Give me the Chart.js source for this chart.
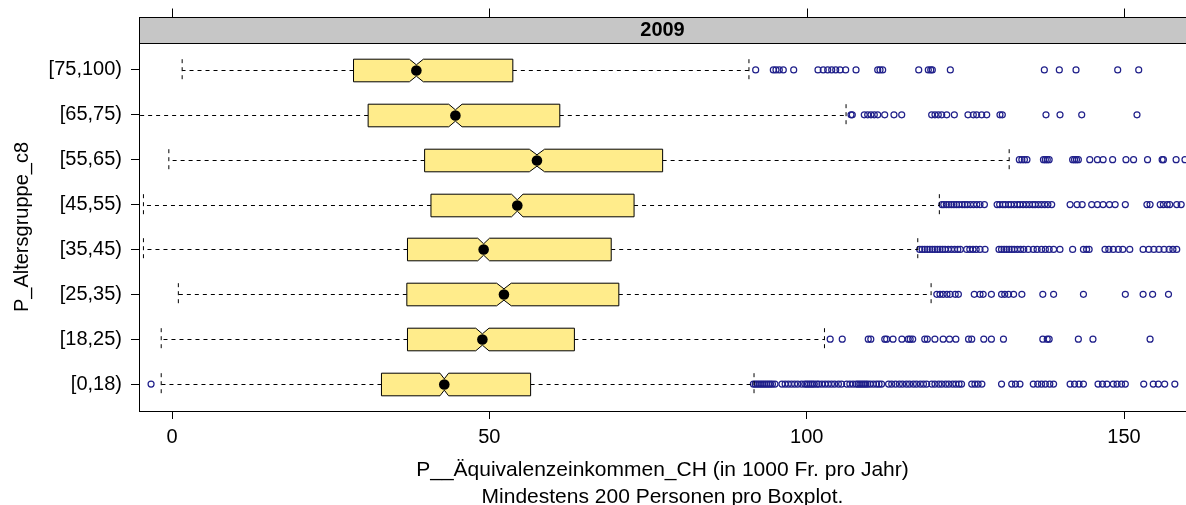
<!DOCTYPE html>
<html>
<head>
<meta charset="utf-8">
<script src="https://cdn.jsdelivr.net/npm/chart.js@4.4.0/dist/chart.umd.min.js"></script>
<style>
  body { margin: 0; background: #fff; }
  #wrap { width: 1186px; height: 505px; }
</style>
</head>
<body>
<div id="wrap"><canvas id="bw-chart"></canvas></div>
<script>
//Groups, top to bottom
var groups = ["[75,100)", "[65,75)", "[55,65)", "[45,55)", "[35,45)", "[25,35)", "[18,25)", "[0,18)"];

//Box statistics (1000 Fr. pro Jahr)
var whiskerLow = [1.6, -8, -0.5, -4.5, -4.5, 1.0, -1.7, -1.7];
var q1 = [28.6, 30.9, 39.8, 40.8, 37.1, 37.0, 37.1, 33.0];
var medians = [38.5, 44.65, 57.5, 54.4, 49.1, 52.3, 48.9, 42.9];
var q3 = [53.7, 61.1, 77.3, 72.8, 69.2, 70.4, 63.4, 56.5];
var whiskerHigh = [90.9, 106.2, 131.9, 120.9, 117.5, 119.6, 102.8, 91.7];
var notchHalf = [1.1, 1.05, 1.2, 0.9, 0.93, 1.15, 1.04, 0.68];

//Outliers for each group
var out_75_100 = [91.96, 94.74, 95.16, 95.68, 96.31, 97.95, 101.78, 102.61, 103.31, 103.94, 104.57, 105.25, 106.14, 107.77,
  111.19, 111.55, 111.97, 117.65, 119.16, 119.54, 119.79, 122.63, 137.44, 139.8, 142.43, 149.0, 152.31];
var out_65_75 = [106.98, 107.18, 109.07, 109.61, 110.13, 110.65, 111.19, 112.29, 113.75, 114.97, 119.69, 120.21, 120.73,
  121.27, 122.06, 123.26, 125.41, 126.25, 126.78, 127.57, 128.36, 130.45, 130.82, 137.7, 139.91, 143.33, 152.04];
var out_55_65 = [133.5, 133.9, 134.3, 134.7, 137.3, 137.6, 137.9, 138.2, 141.9, 142.2, 142.5, 142.8, 144.6, 145.8, 146.7,
  148.2, 150.3, 151.5, 153.7, 156.0, 156.2, 158.2, 159.6];
var out_45_55 = [121.3, 121.6, 122.0, 122.4, 122.8, 123.2, 123.6, 124.0, 124.5, 124.9, 125.3, 125.8, 126.3, 126.8, 127.3, 128.0,
  130.0, 130.4, 130.9, 131.3, 131.8, 132.2, 132.7, 133.2, 133.6, 134.1, 134.6, 135.1, 135.6, 136.0, 136.5, 137.0, 137.5, 138.0, 138.6,
  141.5, 142.6, 143.4, 144.9, 145.8, 146.7, 147.7, 148.6, 150.2, 153.6, 154.1, 155.7, 156.2, 156.8, 157.2, 158.3, 159.0];
var out_35_45 = [117.8, 118.2, 118.6, 119.0, 119.4, 119.8, 120.2, 120.6, 121.0, 121.4, 121.8, 122.3, 122.8, 123.3, 123.8, 124.2,
  125.2, 125.7, 126.2, 126.7, 127.3, 128.1, 130.3, 130.7, 131.1, 131.5, 131.9, 132.3, 132.7, 133.2, 133.7, 134.2, 134.9,
  135.7, 136.3, 137.0, 137.6, 138.2, 138.9, 139.9, 141.9, 143.6, 144.1, 144.5, 147.0, 147.6, 148.3, 149.1, 149.8, 150.9,
  153.0, 153.9, 154.7, 155.5, 156.3, 157.1, 157.7, 158.3];
var out_25_35 = [120.5, 121.0, 121.5, 122.1, 122.6, 123.4, 123.9, 126.4, 127.3, 127.8, 129.1, 130.7, 131.2, 131.8, 132.6,
  133.9, 137.2, 138.9, 143.6, 150.2, 153.0, 154.5, 157.0];
var out_18_25 = [103.7, 105.6, 109.7, 110.1, 112.3, 112.6, 113.6, 115.0, 116.0, 116.3, 116.7, 118.6, 119.0, 120.2, 121.5,
  122.5, 123.5, 125.5, 126.0, 127.9, 129.1, 131.0, 137.2, 137.9, 138.2, 142.8, 145.1, 154.1];
var out_0_18 = [-3.3, 91.6, 91.9, 92.2, 92.5, 92.8, 93.1, 93.4, 93.7, 94.0, 94.3, 94.6, 95.0,
  96.1, 96.6, 97.1, 97.6, 98.1, 98.6, 99.2, 99.7, 100.0, 100.3, 100.6, 100.9, 101.2, 101.6,
  101.9, 102.4, 102.9, 103.4, 103.9, 104.4, 105.0, 105.5,
  106.3, 106.8, 107.3, 107.8, 108.1, 108.4, 108.7, 109.0, 109.3, 109.6, 110.0, 110.5, 111.0, 111.4, 111.8,
  112.9, 113.4, 114.0, 114.6, 115.1, 115.7, 116.2, 116.8, 117.3, 117.9, 118.4, 118.9,
  119.7, 120.2, 120.8, 121.3, 121.9, 122.4, 123.0, 123.5, 124.0, 124.4,
  126.0, 126.5, 127.0, 127.6, 130.7, 132.3, 132.9, 133.6, 135.7, 136.4, 137.0, 137.6, 138.3, 138.9,
  141.5, 142.2, 142.9, 143.6, 145.9, 146.6, 147.3, 148.3, 148.9, 149.6, 150.2,
  153.1, 154.6, 155.4, 156.4, 158.0];

var xTicks = [0, 50, 100, 150];
var panelTitle = "2009";
var xTitle = "P__Äquivalenzeinkommen_CH (in 1000 Fr. pro Jahr)";
var xSubTitle = "Mindestens 200 Personen pro Boxplot.";
var yTitle = "P_Altersgruppe_c8";

var fontFamily = "'Liberation Sans', Arial, sans-serif";

//Build scatter points for outliers
var allOutliers = [out_75_100, out_65_75, out_55_65, out_45_55, out_35_45, out_25_35, out_18_25, out_0_18];
var outlierPoints = [];
for (var g = 0; g < allOutliers.length; g++) {
  for (var k = 0; k < allOutliers[g].length; k++) {
    outlierPoints.push({ x: allOutliers[g][k], y: g });
  }
}

//Notched box and whisker drawing, plus lattice strip on top
var bwPlugin = {
  id: 'bwPlot',
  afterDatasetsDraw: function(chart) {
    var ctx = chart.ctx;
    var xs = chart.scales.x;
    var ys = chart.scales.y;
    var area = chart.chartArea;
    var rowPx = Math.abs(ys.getPixelForValue(1) - ys.getPixelForValue(0));
    var half = rowPx * 0.252;

    ctx.save();
    ctx.beginPath();
    ctx.rect(area.left, area.top, area.right - area.left, area.bottom - area.top);
    ctx.clip();
    ctx.lineWidth = 1;
    ctx.strokeStyle = '#000';
    for (var i = 0; i < groups.length; i++) {
      var yc = Math.round(ys.getPixelForValue(i)) + 0.5;
      var xLo = xs.getPixelForValue(whiskerLow[i]);
      var xQ1 = xs.getPixelForValue(q1[i]);
      var xMed = xs.getPixelForValue(medians[i]);
      var xQ3 = xs.getPixelForValue(q3[i]);
      var xHi = xs.getPixelForValue(whiskerHigh[i]);
      var xNl = xs.getPixelForValue(medians[i] - notchHalf[i]);
      var xNh = xs.getPixelForValue(medians[i] + notchHalf[i]);

      //whiskers
      ctx.setLineDash([4, 4]);
      ctx.beginPath();
      ctx.moveTo(xQ1, yc); ctx.lineTo(xLo, yc);
      ctx.moveTo(xQ3, yc); ctx.lineTo(xHi, yc);
      ctx.moveTo(xLo, yc - half); ctx.lineTo(xLo, yc + half);
      ctx.moveTo(xHi, yc - half); ctx.lineTo(xHi, yc + half);
      ctx.stroke();

      //notched box
      ctx.setLineDash([]);
      ctx.beginPath();
      ctx.moveTo(xQ1, yc - half);
      ctx.lineTo(xNl, yc - half);
      ctx.lineTo(xMed, yc - half / 2);
      ctx.lineTo(xNh, yc - half);
      ctx.lineTo(xQ3, yc - half);
      ctx.lineTo(xQ3, yc + half);
      ctx.lineTo(xNh, yc + half);
      ctx.lineTo(xMed, yc + half / 2);
      ctx.lineTo(xNl, yc + half);
      ctx.lineTo(xQ1, yc + half);
      ctx.closePath();
      ctx.fillStyle = '#ffec8b';
      ctx.fill();
      ctx.stroke();

      //median dot
      ctx.beginPath();
      ctx.arc(xMed, yc, 5.3, 0, Math.PI * 2);
      ctx.fillStyle = '#000';
      ctx.fill();
    }
    ctx.restore();

    //strip
    var stripTop = area.top - 26;
    ctx.save();
    ctx.fillStyle = '#c6c6c6';
    ctx.strokeStyle = '#000';
    ctx.lineWidth = 1;
    ctx.fillRect(area.left, stripTop, area.right - area.left + 2, 26);
    ctx.strokeRect(area.left + 0.5, stripTop + 0.5, area.right - area.left + 2, 26);
    ctx.fillStyle = '#000';
    ctx.font = 'bold 20px ' + fontFamily;
    ctx.textAlign = 'center';
    ctx.textBaseline = 'middle';
    ctx.fillText(panelTitle, (area.left + area.right) / 2, stripTop + 13.5);

    //top axis ticks
    ctx.beginPath();
    for (var t = 0; t < xTicks.length; t++) {
      var tx = Math.round(xs.getPixelForValue(xTicks[t])) + 0.5;
      ctx.moveTo(tx, stripTop - 8.5);
      ctx.lineTo(tx, stripTop);
    }
    ctx.stroke();
    ctx.restore();
  }
};

var bwChart = new Chart(document.getElementById('bw-chart'), {
  type: 'scatter',
  data: {
    datasets: [{
      label: 'Ausreisser',
      data: outlierPoints,
      pointStyle: 'circle',
      pointRadius: 3.0,
      pointHoverRadius: 3.0,
      borderColor: '#1f1f8a',
      backgroundColor: 'rgba(0,0,0,0)',
      borderWidth: 1.2
    }]
  },
  options: {
    responsive: true,
    maintainAspectRatio: false,
    animation: false,
    layout: { autoPadding: false, padding: { top: 43, right: 0, bottom: 0, left: 0 } },
    plugins: {
      legend: { display: false },
      tooltip: { enabled: false }
    },
    scales: {
      x: {
        type: 'linear',
        position: 'bottom',
        min: -5.2,
        max: 159.76,
        afterBuildTicks: function(axis) {
          axis.ticks = xTicks.map(function(v) { return { value: v }; });
        },
        afterFit: function(axis) { axis.height = 94; },
        grid: { drawOnChartArea: false, drawTicks: true, tickLength: 8, tickColor: '#000' },
        border: { display: true, color: '#000', width: 1 },
        ticks: {
          padding: 6,
          maxRotation: 0,
          color: '#000',
          font: { family: fontFamily, size: 20 }
        },
        title: {
          display: true,
          text: [xTitle, xSubTitle],
          color: '#000',
          font: { family: fontFamily, size: 21, lineHeight: 1.25 },
          padding: { top: 0, bottom: -5 }
        }
      },
      y: {
        type: 'linear',
        position: 'left',
        reverse: true,
        min: -0.6,
        max: 7.6,
        afterBuildTicks: function(axis) {
          axis.ticks = groups.map(function(l, i) { return { value: i }; });
        },
        afterFit: function(axis) { axis.width = 139; },
        grid: { drawOnChartArea: false, drawTicks: true, tickLength: 8, tickColor: '#000' },
        border: { display: true, color: '#000', width: 1 },
        ticks: {
          padding: 9,
          autoSkip: false,
          color: '#000',
          font: { family: fontFamily, size: 20 },
          callback: function(value) { return groups[value]; }
        },
        title: {
          display: true,
          text: yTitle,
          color: '#000',
          font: { family: fontFamily, size: 20 },
          padding: { top: 10.5, bottom: 0 }
        }
      }
    }
  },
  plugins: [bwPlugin]
});
</script>
</body>
</html>
